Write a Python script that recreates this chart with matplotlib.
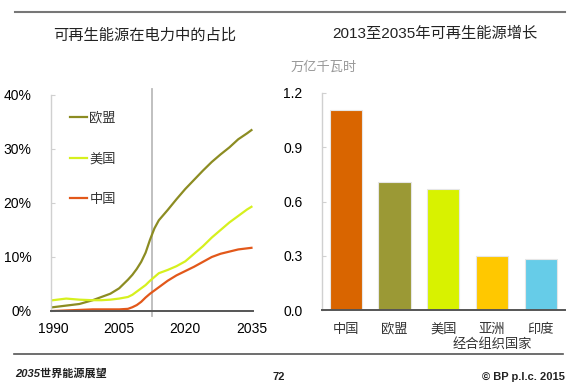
import matplotlib
matplotlib.use('Agg')
import matplotlib.pyplot as plt
from matplotlib.lines import Line2D
from matplotlib.transforms import blended_transform_factory

plt.rcParams['font.family'] = ['Liberation Sans', 'Noto Sans CJK SC', 'DejaVu Sans']

# left chart: share of renewables in power (%)
years = [1990, 1993, 1996, 1999, 2001, 2003, 2005, 2007, 2008, 2009, 2010, 2011, 2012,
         2013, 2014, 2016, 2018, 2020, 2022, 2024, 2026, 2028, 2030, 2032, 2034, 2035]
eu = [0.7, 1.0, 1.3, 2.0, 2.6, 3.2, 4.2, 5.8, 6.7, 7.8, 9.1, 10.8, 13.2,
      15.3, 16.8, 18.7, 20.7, 22.6, 24.3, 26.0, 27.6, 29.0, 30.3, 31.8, 32.9, 33.5]
us = [2.0, 2.3, 2.1, 2.0, 2.0, 2.1, 2.3, 2.6, 3.0, 3.6, 4.2, 4.8, 5.6,
      6.3, 7.0, 7.6, 8.3, 9.2, 10.6, 12.0, 13.6, 15.0, 16.4, 17.6, 18.8, 19.3]
china = [0.0, 0.1, 0.2, 0.3, 0.3, 0.3, 0.3, 0.4, 0.7, 1.1, 1.7, 2.5, 3.2,
         3.8, 4.4, 5.6, 6.6, 7.4, 8.2, 9.1, 10.0, 10.6, 11.0, 11.4, 11.6, 11.7]
base_year = 2012.4

# right chart: renewables growth 2013-2035 (thousand TWh)
regions = ['中国', '欧盟', '美国', '亚洲', '印度']
region_sub = {3: '经合组织国家'}
growth = [1.105, 0.71, 0.67, 0.30, 0.28]
bar_colors = ['#D96500', '#9B9935', '#D8F200', '#FFC800', '#66CCE8']

c_eu = '#8C8C22'
c_us = '#D6F01E'
c_cn = '#E2581A'
cjk = ['Noto Sans CJK SC', 'DejaVu Sans']

fig = plt.figure(figsize=(5.8, 3.83), dpi=100)
fig.patch.set_facecolor('white')

# rules top and bottom
fig.add_artist(Line2D([15/580, 565/580], [1 - 12/383] * 2, color='#777777', lw=1.5))
fig.add_artist(Line2D([14/580, 563/580], [1 - 354/383] * 2, color='#555555', lw=1.2))

# ---- left chart
ax1 = fig.add_axes([51/580, 72/383, 202/580, 216/383])
ax1.plot(years, eu, color=c_eu, lw=1.6, label='欧盟')
ax1.plot(years, us, color=c_us, lw=1.6, label='美国')
ax1.plot(years, china, color=c_cn, lw=1.6, label='中国')
ax1.axvline(base_year, ymin=-5/216, ymax=1 + 6/216, color='#bbbbbb', lw=1.3, clip_on=False, zorder=0)
ax1.set_xlim(1989.55, 2035.35)
ax1.set_ylim(0, 40)
ax1.set_xticks([1990, 2005, 2020, 2035])
ax1.set_yticks([0, 10, 20, 30, 40])
ax1.set_yticklabels(['0%', '10%', '20%', '30%', '40%'])
for s in ['top', 'right']:
    ax1.spines[s].set_visible(False)
ax1.spines['left'].set_color('#d0d0d0')
ax1.spines['left'].set_linewidth(1.0)
ax1.spines['bottom'].set_color('#555555')
ax1.spines['bottom'].set_linewidth(1.4)
ax1.tick_params(axis='y', direction='in', length=3, color='#d0d0d0', pad=14, labelsize=10)
ax1.tick_params(axis='x', length=0, pad=8, labelsize=10)
leg = ax1.legend(loc='upper left', bbox_to_anchor=(0.095, 0.922), frameon=False,
                 prop={'family': cjk, 'size': 9.5},
                 handlelength=1.3, handletextpad=0.15, labelspacing=2.08,
                 borderpad=0, borderaxespad=0)
for t in leg.get_texts():
    t.set_color('#333333')
fig.text(145/580, 1 - 35/383, '可再生能源在电力中的占比', ha='center', va='center',
         fontsize=11, color='#222222', family=cjk)

# ---- right chart
ax2 = fig.add_axes([322/580, 73/383, 243/580, 217/383])
x = list(range(len(regions)))
ax2.bar(x, growth, width=0.66, color=bar_colors, edgecolor='#e6e6e6', linewidth=0.8)
ax2.set_xlim(-0.49, 4.5)
ax2.set_ylim(0, 1.2)
ax2.set_yticks([0.0, 0.3, 0.6, 0.9, 1.2])
ax2.set_yticklabels(['0.0', '0.3', '0.6', '0.9', '1.2'])
ax2.set_xticks(x)
ax2.set_xticklabels(regions, family=cjk, fontsize=9.5, color='#333333')
trans = blended_transform_factory(ax2.transData, ax2.transAxes)
for i, sub in region_sub.items():
    ax2.text(x[i], -35/217, sub, transform=trans, ha='center', va='center',
             family=cjk, fontsize=9.5, color='#333333')
for s in ['top', 'right']:
    ax2.spines[s].set_visible(False)
ax2.spines['left'].set_color('#d0d0d0')
ax2.spines['left'].set_linewidth(1.0)
ax2.spines['bottom'].set_color('#555555')
ax2.spines['bottom'].set_linewidth(1.4)
ax2.tick_params(axis='y', direction='in', length=3, color='#d0d0d0', pad=14, labelsize=10)
ax2.tick_params(axis='x', length=0, pad=9)
fig.text(435/580, 1 - 34/383, '2013至2035年可再生能源增长', ha='center', va='center',
         fontsize=11, color='#222222')
fig.text(291/580, 1 - 67/383, '万亿千瓦时', ha='left', va='center', fontsize=9.5,
         color='#999999', family=cjk)

# footer
fig.text(15/580, 1 - 373/383, '2035世界能源展望', ha='left', va='center', fontsize=8,
         style='italic', weight='bold', color='#222222')
fig.text(279/580, 1 - 377/383, '72', ha='center', va='center', fontsize=8,
         weight='bold', color='#222222')
fig.text(565/580, 1 - 377/383, '© BP p.l.c. 2015', ha='right', va='center', fontsize=8,
         weight='bold', color='#222222')

fig.savefig('out.png', dpi=100, facecolor='white')
